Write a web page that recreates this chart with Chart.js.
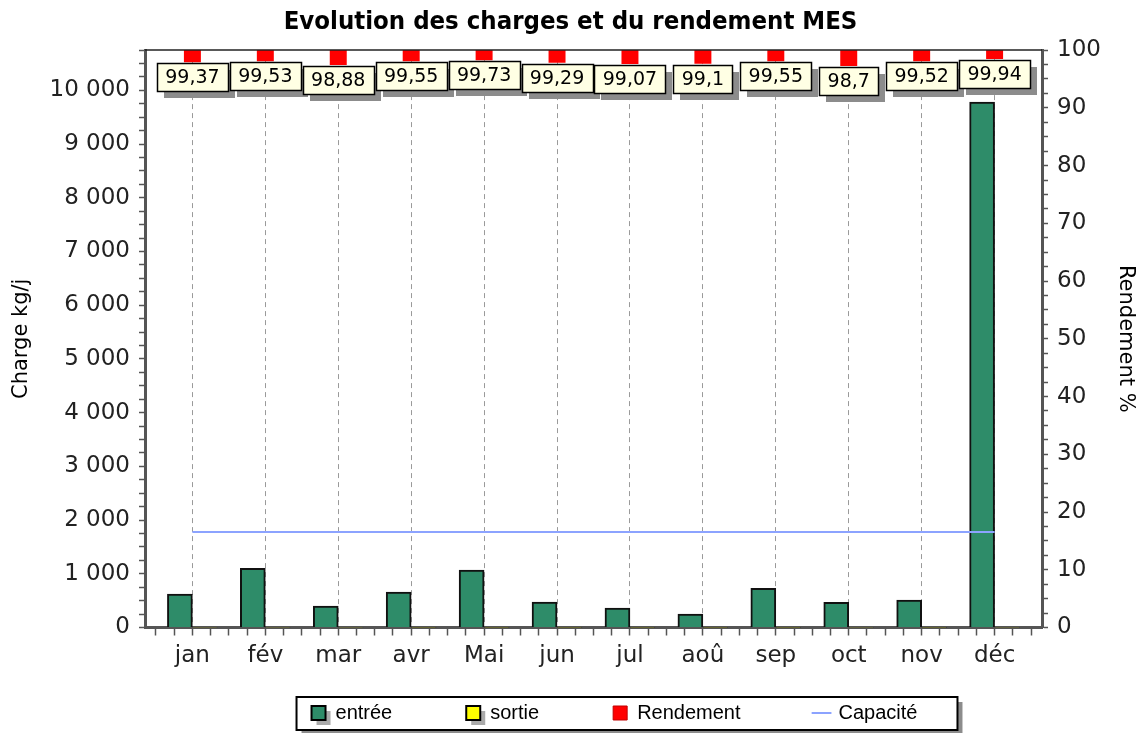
<!DOCTYPE html>
<html>
<head>
<meta charset="utf-8">
<script src="https://cdn.jsdelivr.net/npm/chart.js@4/dist/chart.umd.min.js"></script>
<style>
  html, body { margin: 0; padding: 0; background: #fff; }
</style>
</head>
<body>
<canvas id="chart" width="1141" height="733"></canvas>
<script>
// data
const months = ["jan", "fév", "mar", "avr", "Mai", "jun", "jul", "aoû", "sep", "oct", "nov", "déc"];
const entree = [620, 1100, 400, 660, 1070, 475, 360, 250, 730, 470, 510, 9780];
const sortie = [3.9, 5.2, 4.5, 3.0, 2.9, 3.4, 3.3, 2.2, 3.3, 6.1, 2.4, 5.9];
const rendement = [99.37, 99.53, 98.88, 99.55, 99.73, 99.29, 99.07, 99.1, 99.55, 98.7, 99.52, 99.94];
const capacite = [1780, 1780, 1780, 1780, 1780, 1780, 1780, 1780, 1780, 1780, 1780, 1780];

const chargeMax = 10750;
const rendMax = 100;

const tickFont = { family: '"DejaVu Sans", sans-serif', size: 23 };
const fmt = v => String(v).replace(/\B(?=(\d{3})+(?!\d))/g, " ");
const xy = arr => arr.map((v, i) => ({ x: i, y: v }));
const range = (a, b, s) => { const out = []; for (let v = a; v <= b + 1e-9; v += s) out.push({ value: +v.toFixed(3) }); return out; };

const legendPad = 74;
const legendStyle = [
    { fillStyle: "#2e8c69", strokeStyle: "#000", lineWidth: 2, pointStyle: "rect" },
    { fillStyle: "#ffff00", strokeStyle: "#000", lineWidth: 2, pointStyle: "rect" },
    { fillStyle: "#ff0000", strokeStyle: "#c00000", lineWidth: 1, pointStyle: "rect" },
    { fillStyle: "#8ca3ff", strokeStyle: "#8ca3ff", lineWidth: 2, pointStyle: "line" },
];

// boxed value labels under the red squares
const boxLabels = {
    id: "boxLabels",
    afterDatasetsDraw(chart) {
        const ctx = chart.ctx;
        const meta = chart.getDatasetMeta(2);
        ctx.save();
        ctx.font = '19px "DejaVu Sans", sans-serif';
        ctx.textAlign = "center";
        ctx.textBaseline = "middle";
        meta.data.forEach((pt, i) => {
            const txt = String(rendement[i]).replace(".", ",");
            const w = Math.round(ctx.measureText(txt).width + 17);
            const h = 28;
            const x = Math.round(pt.x - w / 2);
            const y = Math.round(pt.y + 9.5);
            ctx.fillStyle = "#8c8c8c";
            ctx.fillRect(x + 7, y + 7, w, h);
            ctx.fillStyle = "#ffffe4";
            ctx.fillRect(x, y, w, h);
            ctx.strokeStyle = "#000";
            ctx.lineWidth = 1.5;
            ctx.strokeRect(x + 0.5, y + 0.5, w, h);
            ctx.fillStyle = "#000";
            ctx.fillText(txt, pt.x, y + h / 2 + 1);
        });
        ctx.restore();
    },
};

// thin top border of the plot + framed legend
const frames = {
    id: "frames",
    afterInit(chart) {
        // the wide item spacing would make the legend too tall, keep its box short
        const lg = chart.legend;
        const fit = lg.fit;
        lg.fit = function () { fit.call(this); this.height = 62.5; };
    },
    afterLayout(chart) {
        const lg = chart.legend;
        lg.top = 703 - legendPad;
        lg.bottom = 733;
        lg.left += 44; lg.right += 44;
    },
    beforeDraw(chart) {
        const ctx = chart.ctx;
        const boxes = chart.legend.legendHitBoxes;
        if (!boxes || !boxes.length) return;
        const last = boxes[boxes.length - 1];
        const left = boxes[0].left - 15;
        const right = last.left + last.width + 40;
        const cy = boxes[0].top + 10;
        const top = cy - 16;
        const h = 33;
        ctx.save();
        ctx.fillStyle = "#8c8c8c";
        ctx.fillRect(left + 5, top + 5, right - left, h);
        ctx.fillStyle = "#fff";
        ctx.fillRect(left, top, right - left, h);
        ctx.strokeStyle = "#000";
        ctx.lineWidth = 2;
        ctx.strokeRect(left, top, right - left, h);
        // small shadows behind the first two legend boxes
        ctx.fillStyle = "#aaaaaa";
        [0, 1].forEach(i => ctx.fillRect(boxes[i].left + 5, cy - 7 + 5, 14, 14));
        ctx.restore();
    },
    afterDraw(chart) {
        const { ctx, chartArea } = chart;
        ctx.save();
        ctx.strokeStyle = "#222";
        ctx.lineWidth = 1.5;
        ctx.beginPath();
        ctx.moveTo(chartArea.left, chartArea.top);
        ctx.lineTo(chartArea.right, chartArea.top);
        ctx.stroke();
        ctx.restore();
    },
};

new Chart(document.getElementById("chart"), {
    type: "bar",
    plugins: [boxLabels, frames],
    data: {
        datasets: [
            {
                label: "entrée", data: xy(entree), yAxisID: "y", order: 2,
                backgroundColor: "#2e8c69", borderColor: "#111", borderWidth: 2, borderSkipped: "bottom",
                barThickness: 25,
            },
            {
                label: "sortie", data: xy(sortie), yAxisID: "y", order: 2,
                backgroundColor: "#ffff00", borderColor: "#111", borderWidth: 1, borderSkipped: "bottom",
                barThickness: 25,
            },
            {
                type: "line", label: "Rendement", data: xy(rendement), yAxisID: "y1", order: 0,
                showLine: false, pointStyle: "rect", pointRadius: 12, pointBackgroundColor: "#ff0000",
                pointBorderColor: "#ff0000", pointBorderWidth: 0, clip: 0,
            },
            {
                type: "line", label: "Capacité", data: xy(capacite), yAxisID: "y", order: 1,
                borderColor: "#8ca3ff", borderWidth: 2, pointRadius: 0, fill: false,
            },
        ],
    },
    options: {
        responsive: false,
        animation: false,
        devicePixelRatio: 1,
        layout: { padding: { top: 2, left: 0, right: 0, bottom: 0 } },
        plugins: {
            tooltip: { enabled: false },
            title: {
                display: true,
                text: "Evolution des charges et du rendement MES",
                color: "#000",
                font: { family: '"DejaVu Sans Condensed", "DejaVu Sans", sans-serif', size: 25.5, weight: "bold" },
                padding: { top: 5, bottom: 12.5 },
            },
            legend: {
                position: "bottom",
                labels: {
                    usePointStyle: true,
                    boxWidth: 14,
                    boxHeight: 14,
                    padding: legendPad,
                    color: "#000",
                    font: { family: '"Liberation Sans", Arial, sans-serif', size: 20 },
                    generateLabels: chart => chart.data.datasets.map((ds, i) => ({
                        text: ds.label, datasetIndex: i, hidden: false, fontColor: "#000", ...legendStyle[i],
                    })),
                },
            },
        },
        scales: {
            x: {
                type: "linear",
                offset: false,
                min: -0.65,
                max: 11.65,
                afterBuildTicks: s => { s.ticks = range(-0.5, 11.5, 0.25); },
                afterFit: s => { s.height = 43; },
                ticks: {
                    autoSkip: false, maxRotation: 0, padding: 7, color: "#222", font: tickFont,
                    callback: v => Number.isInteger(v) ? months[v] : "",
                },
                grid: {
                    offset: false,
                    color: c => (c.tick && Number.isInteger(c.tick.value)) ? "#9a9a9a" : "rgba(0,0,0,0)",
                    tickColor: "#555", tickLength: 8, tickWidth: 1.5,
                },
                border: { color: "#555", width: 3, dash: [5, 4] },
            },
            y: {
                position: "left",
                min: 0,
                max: chargeMax,
                afterBuildTicks: s => { s.ticks = range(0, chargeMax, 250); },
                afterFit: s => { s.width = 145; },
                ticks: {
                    autoSkip: false, padding: 9, color: "#222", font: tickFont,
                    callback: v => v % 1000 === 0 ? fmt(v) : "",
                },
                grid: { drawOnChartArea: false, tickLength: 6, tickColor: "#555", tickWidth: 1.5 },
                border: { color: "#555", width: 3 },
                title: {
                    display: true, text: "Charge kg/j", color: "#000",
                    font: { family: '"DejaVu Sans", sans-serif', size: 21 }, padding: { top: 9, bottom: 0 },
                },
            },
            y1: {
                position: "right",
                min: 0,
                max: rendMax,
                afterBuildTicks: s => { s.ticks = range(0, rendMax, 2.5); },
                afterFit: s => { s.width = 99; },
                ticks: {
                    autoSkip: false, padding: 9, color: "#222", font: tickFont,
                    callback: v => v % 10 === 0 ? String(v) : "",
                },
                grid: { drawOnChartArea: false, tickLength: 6, tickColor: "#555", tickWidth: 1.5 },
                border: { color: "#555", width: 3 },
                title: {
                    display: true, text: "Rendement %", color: "#000",
                    font: { family: '"DejaVu Sans", sans-serif', size: 21 }, padding: { top: 3, bottom: 0 },
                },
            },
        },
    },
});
</script>
</body>
</html>
